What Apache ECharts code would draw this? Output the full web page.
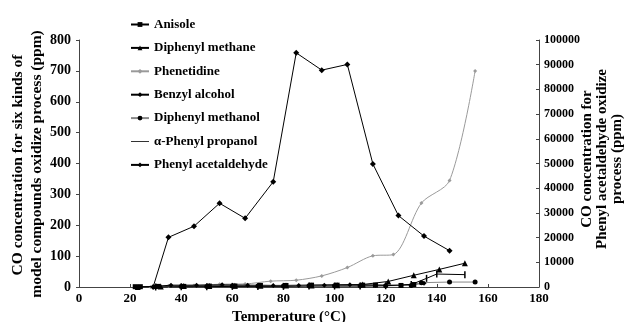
<!DOCTYPE html>
<html>
<head>
<meta charset="utf-8">
<script src="https://cdn.jsdelivr.net/npm/echarts@6/dist/echarts.min.js"></script>
<style>
  html, body { margin: 0; padding: 0; background: #fff; }
  #chart { width: 626px; height: 322px; }
</style>
</head>
<body>
<div id="chart"></div>
<script>
// Temperatures (°C) and CO concentrations (ppm) for each compound
const anisoleT = [22, 24, 31, 41, 51, 61, 71, 81, 91, 101, 111, 116, 126, 131];
const anisoleV = [1, 1, 2, 2, 3, 3, 5, 5, 6, 6, 6, 6, 5, 8];

const diphenylMethaneT = [23, 32, 41, 51, 61, 71, 81, 91, 101, 111, 121, 131, 141, 151];
const diphenylMethaneV = [0, 2, 3, 3, 4, 4, 5, 5, 6, 8, 18, 38, 57, 77];

const phenetidineT = [28, 35, 45, 55, 65, 75, 85, 95, 105, 115, 123, 134, 145, 155];
const phenetidineV = [0, 3, 5, 9, 10, 19, 22, 36, 63, 101, 105, 272, 345, 700];

const benzylAlcoholT = [30, 36, 46, 56, 66, 76, 86, 96, 106, 116, 126, 135];
const benzylAlcoholV = [2, 6, 6, 7, 6, 5, 5, 6, 7, 6, 5, 12];

const diphenylMethanolT = [30, 40, 50, 60, 70, 80, 90, 100, 110, 120, 130, 134, 145, 155];
const diphenylMethanolV = [1, 2, 2, 3, 3, 3, 4, 4, 4, 4, 5, 14, 16, 16];

const phenylPropanolT = [30, 40, 50, 60, 70, 80, 90, 100, 110, 120, 130, 136, 140, 151];
const phenylPropanolV = [0, 1, 1, 2, 2, 2, 3, 3, 3, 4, 8, 28, 42, 40];

// Phenyl acetaldehyde is read against the right-hand axis
const phenylAcetaldehydeT = [29, 35, 45, 55, 65, 76, 85, 95, 105, 115, 125, 135, 145];
const phenylAcetaldehydeV = [0, 20100, 24600, 33900, 27800, 42600, 94800, 87800, 90100, 49800, 28900, 20600, 14700];

const xTicks = { min: 0, max: 180, interval: 20 };
const leftTicks = { min: 0, max: 800, interval: 100 };
const rightTicks = { min: 0, max: 100000, interval: 10000 };

const FONT = "'Liberation Serif', 'Times New Roman', serif";

const pairs = (t, v) => t.map((x, i) => [x, v[i]]);

const axisLine = { show: true, lineStyle: { color: '#444', width: 1 } };

function lineSeries(name, t, v, opts) {
  return Object.assign({
    name: name,
    type: 'line',
    data: pairs(t, v),
    yAxisIndex: 0,
    symbolSize: 5,
    lineStyle: { color: '#000', width: 1 },
    itemStyle: { color: '#000' },
    emphasis: { disabled: true },
    z: 3
  }, opts);
}

const chart = echarts.init(document.getElementById('chart'), null, { renderer: 'canvas' });

chart.setOption({
  animation: false,
  backgroundColor: '#fff',
  grid: { left: 79, right: 87, top: 40, bottom: 35 },
  legend: {
    orient: 'vertical',
    left: 125,
    top: 13,
    itemWidth: 18,
    itemHeight: 6,
    itemGap: 10.4,
    textStyle: { fontFamily: FONT, fontWeight: 'bold', fontSize: 13, color: '#000' },
    data: [
      'Anisole', 'Diphenyl methane', 'Phenetidine', 'Benzyl alcohol', 'Diphenyl methanol',
      { name: 'α-Phenyl propanol', icon: 'path://M0,0L18,0L18,1L0,1Z', itemStyle: { color: '#333' } },
      'Phenyl acetaldehyde'
    ]
  },
  xAxis: {
    type: 'value',
    min: xTicks.min, max: xTicks.max, interval: xTicks.interval,
    axisLine: axisLine,
    axisTick: { show: true, inside: true, length: 3, lineStyle: { color: '#444' } },
    splitLine: { show: false },
    axisLabel: { fontFamily: FONT, fontWeight: 'bold', fontSize: 13, color: '#000', margin: 5 }
  },
  yAxis: [
    {
      type: 'value',
      min: leftTicks.min, max: leftTicks.max, interval: leftTicks.interval,
      axisLine: axisLine,
      axisTick: { show: true, length: 3, lineStyle: { color: '#444' } },
      splitLine: { show: false },
      axisLabel: { fontFamily: FONT, fontWeight: 'bold', fontSize: 14, color: '#000', margin: 8 }
    },
    {
      type: 'value',
      position: 'right',
      min: rightTicks.min, max: rightTicks.max, interval: rightTicks.interval,
      axisLine: axisLine,
      axisTick: { show: true, inside: true, length: 3, lineStyle: { color: '#444' } },
      splitLine: { show: false },
      axisLabel: {
        fontFamily: FONT, fontWeight: 'bold', fontSize: 12, color: '#000', margin: 5,
        formatter: v => String(v)
      }
    }
  ],
  series: [
    lineSeries('Anisole', anisoleT, anisoleV, { symbol: 'rect', symbolSize: 5 }),
    lineSeries('Diphenyl methane', diphenylMethaneT, diphenylMethaneV, { symbol: 'triangle', symbolSize: 6 }),
    lineSeries('Phenetidine', phenetidineT, phenetidineV, {
      symbol: 'diamond', symbolSize: 4, smooth: 0.3,
      lineStyle: { color: '#9a9a9a', width: 1 }, itemStyle: { color: '#9a9a9a' }, z: 2
    }),
    lineSeries('Benzyl alcohol', benzylAlcoholT, benzylAlcoholV, { symbol: 'diamond', symbolSize: 5 }),
    lineSeries('Diphenyl methanol', diphenylMethanolT, diphenylMethanolV, {
      symbol: 'circle', symbolSize: 5, lineStyle: { color: '#888', width: 1 }
    }),
    lineSeries('α-Phenyl propanol', phenylPropanolT, phenylPropanolV, {
      symbol: 'path://M0,0L1,0L1,10L0,10Z', symbolSize: [1.5, 7]
    }),
    lineSeries('Phenyl acetaldehyde', phenylAcetaldehydeT, phenylAcetaldehydeV, {
      yAxisIndex: 1, symbol: 'diamond', symbolSize: 6
    })
  ],
  graphic: [
    {
      type: 'text', x: 18, y: 165, rotation: Math.PI / 2,
      style: { text: 'CO concentration for six kinds of', font: "bold 15.5px " + FONT,
               fill: '#000', align: 'center', verticalAlign: 'middle' }
    },
    {
      type: 'text', x: 37, y: 164, rotation: Math.PI / 2,
      style: { text: 'model compounds oxidize process (ppm)', font: "bold 15.5px " + FONT,
               fill: '#000', align: 'center', verticalAlign: 'middle' }
    },
    {
      type: 'text', x: 587, y: 159, rotation: Math.PI / 2,
      style: { text: 'CO concentration for', font: "bold 15px " + FONT,
               fill: '#000', align: 'center', verticalAlign: 'middle' }
    },
    {
      type: 'text', x: 602, y: 159, rotation: Math.PI / 2,
      style: { text: 'Phenyl acetaldehyde oxidize', font: "bold 15px " + FONT,
               fill: '#000', align: 'center', verticalAlign: 'middle' }
    },
    {
      type: 'text', x: 617, y: 159, rotation: Math.PI / 2,
      style: { text: 'process (ppm)', font: "bold 15px " + FONT,
               fill: '#000', align: 'center', verticalAlign: 'middle' }
    },
    {
      type: 'text', x: 289, y: 317,
      style: { text: 'Temperature (°C)', font: "bold 15px " + FONT,
               fill: '#000', align: 'center', verticalAlign: 'middle' }
    }
  ]
});
</script>
</body>
</html>
